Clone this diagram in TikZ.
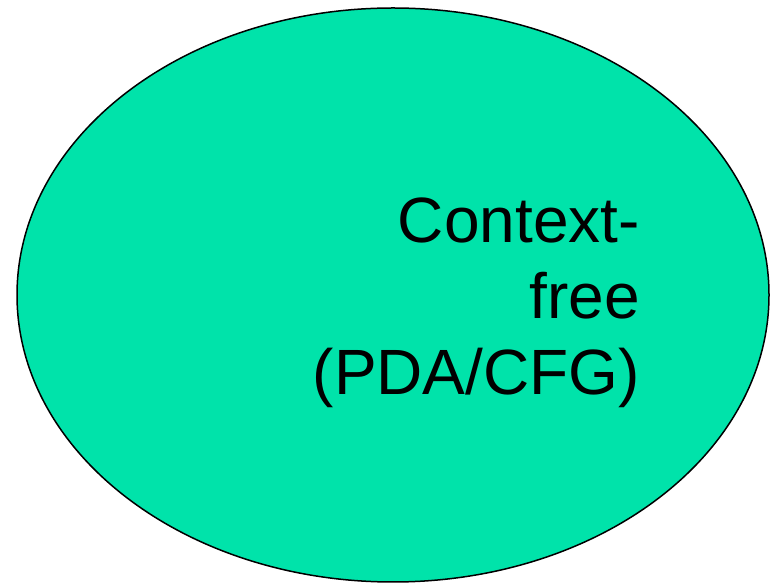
\documentclass[tikz,border=0pt]{standalone}
\usepackage{fontspec}
\setmainfont{Liberation Sans}
\usetikzlibrary{shapes}
\definecolor{cfgreen}{HTML}{00E3AA}

\begin{document}
\begin{tikzpicture}[x=1pt, y=1pt]
\tikzstyle{language} = [ellipse, draw, fill=cfgreen, line width=1.5pt,
    minimum width=752pt, minimum height=574pt, inner sep=0pt]
\tikzstyle{label} = [align=right, font=\fontsize{64}{76}\selectfont, inner sep=0pt]

 \useasboundingbox (0,0) rectangle (776,583);

 \node [language] (cfl) at (393,288) {};
 \node [label, anchor=base east] (cfltext) at (640,188) {Context-\\ free\\ (PDA/CFG)};
\end{tikzpicture}
\end{document}
